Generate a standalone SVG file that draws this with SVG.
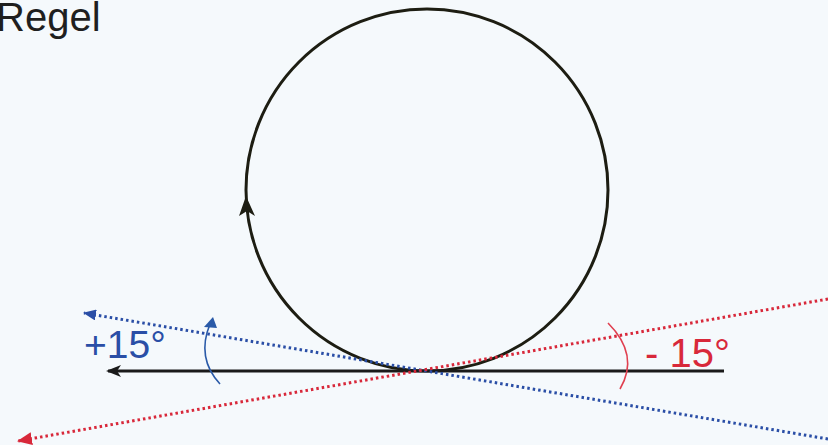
<svg xmlns="http://www.w3.org/2000/svg" width="828" height="445" viewBox="0 0 828 445">
<style>
.lbl{font-family:"Liberation Sans",Arial,sans-serif}
.dot{fill:none;stroke-width:3;stroke-dasharray:2.5 3}
</style>
<defs>
<marker id="ak" markerWidth="15" markerHeight="12" refX="13" refY="6" orient="auto" markerUnits="userSpaceOnUse"><path d="M15,6 L0,0 L4,6 L0,12 Z" fill="#1a1a1a"/></marker>
<marker id="ab" markerWidth="13" markerHeight="11" refX="12" refY="5.5" orient="auto" markerUnits="userSpaceOnUse"><path d="M13,5.5 L0,0 L0,11 Z" fill="#2a4ea6"/></marker>
<marker id="ar" markerWidth="15" markerHeight="13" refX="14" refY="6.5" orient="auto" markerUnits="userSpaceOnUse"><path d="M15,6.5 L0,0 L0,13 Z" fill="#d8283a"/></marker>
</defs>
<rect width="828" height="445" fill="#f5f9fc"/>
<text class="lbl" x="-4" y="31" font-size="40" fill="#1f1f1f">Regel</text>
<g id="circle">
<circle cx="427" cy="190" r="181" fill="none" stroke="#1d1d12" stroke-width="3"/>
<path d="M246,196 L239,216 L247,211 L255,216 Z" fill="#1d1d12"/>
</g>
<g id="connectors">
<line x1="724" y1="371" x2="108" y2="371" stroke="#1a1a1a" stroke-width="3" marker-end="url(#ak)"/>
<line class="dot" x1="828" y1="439" x2="84" y2="313" stroke="#2a4ea6" marker-end="url(#ab)"/>
<line class="dot" x1="828" y1="299" x2="18" y2="441" stroke="#d8283a" marker-end="url(#ar)"/>
<path d="M220,384 Q196,358 210,324" fill="none" stroke="#2a5aa8" stroke-width="1.6"/>
<path d="M213,317 L204,327 L217,328 Z" fill="#2a5aa8"/>
<path d="M608,323 Q640,355 620,389" fill="none" stroke="#e04050" stroke-width="1.6"/>
</g>
<text class="lbl" x="84" y="358" font-size="39" fill="#2a4ea6">+15°</text>
<text class="lbl" x="645" y="367" font-size="40" fill="#d8283a">- 15°</text>
</svg>
